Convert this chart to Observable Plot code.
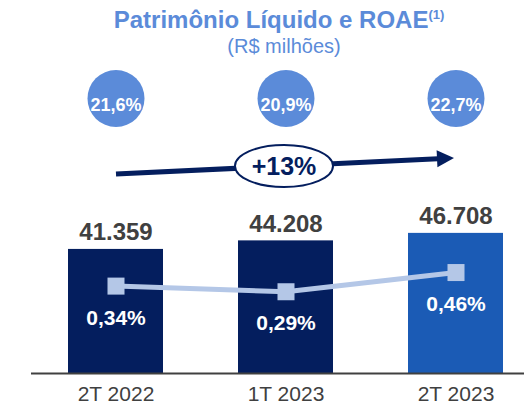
<!DOCTYPE html>
<html>
<head>
<meta charset="utf-8">
<script src="https://cdn.jsdelivr.net/npm/d3@7"></script>
<script src="https://cdn.jsdelivr.net/npm/@observablehq/plot@0.6"></script>
<style>
  html, body { margin: 0; padding: 0; background: #fff; }
  body { width: 524px; height: 404px; overflow: hidden; font-family: "Liberation Sans", Arial, sans-serif; }
  #title { font-weight: bold; font-size: 24px; line-height: 28px; height: 28px; padding-top: 6px; color: #5b8bd9; text-align: center; padding-left: 34px; white-space: nowrap; }
  #title span { font-size: 13px; position: relative; top: -9px; }
  #subtitle { font-size: 20px; line-height: 24px; height: 24px; color: #5b8bd9; text-align: center; padding-left: 44px; white-space: nowrap; }
  #chart svg { display: block; }
</style>
</head>
<body>
<div id="title">Patrimônio Líquido e ROAE<span>(1)</span></div>
<div id="subtitle">(R$ milhões)</div>
<div id="chart"></div>
<script>
// ---- data ----
const categories = ["2T 2022", "1T 2023", "2T 2023"];
const equity = [41359, 44208, 46708];          // Patrimônio Líquido (R$ milhões)
const roae = [21.6, 20.9, 22.7];                // ROAE (%)
const rate = [0.34, 0.29, 0.46];                // secondary line (%)
const growth = {from: "2T 2022", to: "2T 2023", label: "+13%"};

// ---- styles ----
const NAVY = "#041e5e";
const HIGHLIGHT = "#1b5bb5";
const CIRCLE = "#5b8bd9";
const LINE = "#b4c7e7";
const GRAY = "#404040";

const loc = d3.formatLocale({decimal: ",", thousands: ".", grouping: [3], currency: ["R$ ", ""]});
const fmtInt = loc.format(",.0f");
const fmt1 = loc.format(".1f");
const fmt2 = loc.format(".2f");

const data = categories.map((cat, i) => ({cat, equity: equity[i], roae: roae[i], rate: rate[i], last: i === categories.length - 1}));

// secondary axis for the rate line, expressed in the primary y scale units
const rateScale = d3.scaleLinear().domain([0.29, 0.46]).range([27250, 33650]);

const arrowMark = (index, scales) => {
  const x = scales.x;
  const bw = typeof x.bandwidth === "function" ? x.bandwidth() : (x.bandwidth || 0);
  const xa = x(growth.from) + bw / 2 + 0.5;
  const xb = x(growth.to) + bw / 2 - 1.5;
  const ya = 116, yb = 100;
  const headLen = 17, headHalf = 8.5;
  const ang = Math.atan2(yb - ya, xb - xa);
  const bx = xb - headLen * Math.cos(ang), by = yb - headLen * Math.sin(ang);
  const px = -Math.sin(ang), py = Math.cos(ang);
  const g = d3.create("svg:g");
  g.append("line").attr("x1", xa).attr("y1", ya).attr("x2", bx + 1 * Math.cos(ang)).attr("y2", by + 1 * Math.sin(ang))
    .attr("stroke", NAVY).attr("stroke-width", 5);
  g.append("polygon")
    .attr("points", [[xb, yb], [bx + px * headHalf, by + py * headHalf], [bx - px * headHalf, by - py * headHalf]].map(p => p.join(",")).join(" "))
    .attr("fill", NAVY);
  const cx = (x(categories[1]) + bw / 2) - 1.5;
  const cy = ya + (yb - ya) * ((cx - xa) / (xb - xa));
  g.append("ellipse").attr("cx", cx).attr("cy", cy).attr("rx", 49).attr("ry", 21)
    .attr("fill", "#fff").attr("stroke", NAVY).attr("stroke-width", 2);
  g.append("text").attr("x", cx).attr("y", cy).attr("dy", "0.36em").attr("text-anchor", "middle")
    .attr("font-size", 25).attr("font-weight", "bold").attr("fill", NAVY).text(growth.label);
  return g.node();
};

const chart = Plot.plot({
  width: 524,
  height: 346,
  marginTop: 0,
  marginBottom: 31,
  marginLeft: 31,
  marginRight: 0,
  style: {fontFamily: "'Liberation Sans', Arial, sans-serif", fontSize: "12px", background: "#fff", overflow: "visible"},
  x: {domain: categories, range: [68, 503.2], paddingInner: 0.44, paddingOuter: 0, label: null},
  y: {domain: [0, 50000], range: [315, 165], axis: null, label: null},
  marks: [
    Plot.barY(data, {x: "cat", y: "equity", fill: d => d.last ? HIGHLIGHT : NAVY}),
    Plot.ruleY([0], {stroke: GRAY, strokeWidth: 2}),
    Plot.axisX({tickSize: 0, tickPadding: 13, fontSize: 21, fill: GRAY, label: null}),
    Plot.text(data, {x: "cat", y: "equity", text: d => fmtInt(d.equity), dy: -17, fontSize: 24, fontWeight: "bold", fill: GRAY}),
    Plot.line(data, {x: "cat", y: d => rateScale(d.rate), stroke: LINE, strokeWidth: 5}),
    Plot.dot(data, {x: "cat", y: d => rateScale(d.rate), symbol: "square", r: 9.6, fill: LINE, stroke: null}),
    Plot.text(data, {x: "cat", y: d => rateScale(d.rate), text: d => fmt2(d.rate) + "%", dy: 32, fontSize: 21, fontWeight: "bold", fill: "#fff"}),
    Plot.dot(data, {x: "cat", frameAnchor: "top", dy: 40, r: 28.5, fill: CIRCLE, stroke: null}),
    Plot.text(data, {x: "cat", frameAnchor: "top", dy: 40, text: d => fmt1(d.roae) + "%", fontSize: 18, fontWeight: "bold", fill: "#fff"}),
    arrowMark
  ]
});
document.getElementById("chart").appendChild(chart);
</script>
</body>
</html>
